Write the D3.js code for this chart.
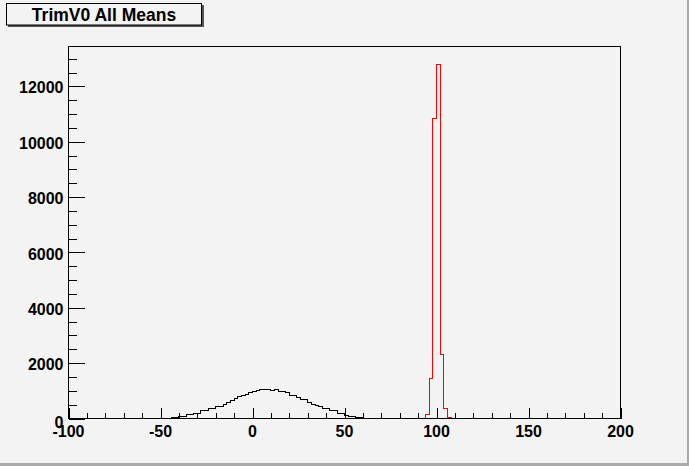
<!DOCTYPE html>
<html><head><meta charset="utf-8">
<script src="https://cdn.jsdelivr.net/npm/d3@7"></script>
<style>html,body{margin:0;padding:0;background:#f3f3f3;}svg{display:block;}</style>
</head><body>
<script>
const titleText = "TrimV0 All Means";
const binWidth = 2;
const blackStart = -60;
const blackCounts = [3,4,6,8,10,12,15,18,24,26,83,85,145,148,192,195,289,292,350,355,
  434,438,506,590,650,734,795,830,867,928,987,1010,1037,1040,1037,1000,1037,976,976,928,
  842,820,770,676,676,590,506,480,434,350,350,289,289,192,190,110,80,55,35,25,
  15,10,8,6,15,12,4];
const redStart = 92;
const redCounts = [10,140,1430,10830,12790,2310,350,50];
const xDomain = [-100, 200];
const yMax = 13440;
const xMajorTicks = [-100,-50,0,50,100,150,200];
const yMajorTicks = [0,2000,4000,6000,8000,10000,12000];

const W = 689, H = 466;
const bg = "#f3f3f3";
const svg = d3.select("body").append("svg").attr("width", W).attr("height", H);
svg.append("rect").attr("width", W).attr("height", H).attr("fill", bg);
// window border
svg.append("rect").attr("x", 687).attr("y", 0).attr("width", 2).attr("height", H).attr("fill", "#aaaaaa");
svg.append("rect").attr("x", 0).attr("y", 463).attr("width", W).attr("height", 3).attr("fill", "#aaaaaa");

const x = d3.scaleLinear().domain(xDomain).range([68.5, 620.5]);
const y = d3.scaleLinear().domain([0, yMax]).range([418.5, 46.5]);

function histPoints(start, counts) {
  const pts = [[start, 0]];
  counts.forEach((c, i) => {
    const lo = start + i * binWidth;
    pts.push([lo, c]); pts.push([lo + binWidth, c]);
  });
  pts.push([start + counts.length * binWidth, 0]);
  return pts;
}
const line = d3.line().x(d => x(d[0])).y(d => y(d[1]));

svg.append("path").attr("d", line(histPoints(blackStart, blackCounts)))
  .attr("fill", "none").attr("stroke", "#000").attr("stroke-width", 1)
  .attr("shape-rendering", "crispEdges");
svg.append("path").attr("d", line(histPoints(redStart, redCounts)))
  .attr("fill", "none").attr("stroke", "#ff0000").attr("stroke-width", 1)
  .attr("shape-rendering", "crispEdges");

// frame
svg.append("rect").attr("x", 68.5).attr("y", 46.5).attr("width", 552).attr("height", 372)
  .attr("fill", "none").attr("stroke", "#000").attr("stroke-width", 1)
  .attr("shape-rendering", "crispEdges");

const font = "'Liberation Sans', Arial, Helvetica, sans-serif";
// x axis
const xAxis = d3.axisBottom(x).tickValues(d3.range(-100, 201, 10))
  .tickSize(0).tickFormat("");
const gx = svg.append("g").attr("transform", "translate(0,418.5)").call(xAxis);
gx.select(".domain").remove();
gx.selectAll(".tick line").attr("y2", d => (d % 50 === 0 ? -11 : -5.5)).attr("stroke", "#000")
  .attr("shape-rendering", "crispEdges");
svg.append("g").selectAll("text").data(xMajorTicks).join("text")
  .attr("x", d => x(d)).attr("y", 436.5).attr("text-anchor", "middle")
  .attr("font-family", font).attr("font-weight", "bold").attr("font-size", 16)
  .text(d => d);

// y axis
const yAxis = d3.axisLeft(y).tickValues(d3.range(0, 13001, 500)).tickSize(0).tickFormat("");
const gy = svg.append("g").attr("transform", "translate(68.5,0)").call(yAxis);
gy.select(".domain").remove();
gy.selectAll(".tick line").attr("x2", d => (d % 2000 === 0 ? 16.5 : 8.5)).attr("stroke", "#000")
  .attr("shape-rendering", "crispEdges");
svg.append("g").selectAll("text").data(yMajorTicks).join("text")
  .attr("x", 63.5).attr("y", d => y(d) + (d === 0 ? 3.5 : 1.5)).attr("dy", "0.35em")
  .attr("text-anchor", "end")
  .attr("font-family", font).attr("font-weight", "bold").attr("font-size", 16)
  .text(d => d);

// title box
svg.append("rect").attr("x", 8).attr("y", 5).attr("width", 196).attr("height", 22).attr("fill", "#555");
svg.append("rect").attr("x", 6.5).attr("y", 3.5).attr("width", 195).attr("height", 21.5)
  .attr("fill", bg).attr("stroke", "#000").attr("stroke-width", 1);
svg.append("text").attr("x", 104).attr("y", 21).attr("text-anchor", "middle")
  .attr("font-family", font).attr("font-weight", "bold").attr("font-size", 17.5)
  .text(titleText);
</script>
</body></html>
